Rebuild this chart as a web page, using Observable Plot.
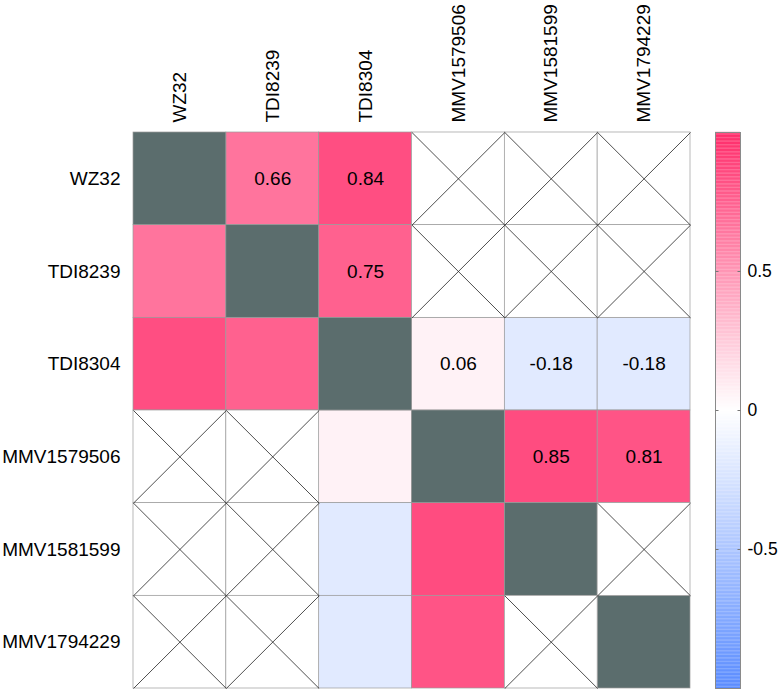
<!DOCTYPE html>
<html>
<head>
<meta charset="utf-8">
<script src="https://cdn.jsdelivr.net/npm/d3@7"></script>
<script src="https://cdn.jsdelivr.net/npm/@observablehq/plot@0.6"></script>
<style>
  html, body { margin: 0; padding: 0; background: #fff; }
  #wrap { position: relative; width: 780px; height: 689px; }
  #wrap > svg { position: absolute; left: 0; top: 0; }
</style>
</head>
<body>
<div id="wrap"></div>
<script>
// Labels (rows and columns are the same compounds)
const labels = ["WZ32", "TDI8239", "TDI8304", "MMV1579506", "MMV1581599", "MMV1794229"];

// Upper-triangle correlation values (null = not available, shown with an X)
const corrWZ32       = [null, 0.66, 0.84, null, null, null];
const corrTDI8239    = [null, null, 0.75, null, null, null];
const corrTDI8304    = [null, null, null, 0.06, -0.18, -0.18];
const corrMMV1579506 = [null, null, null, null, 0.85, 0.81];
const corrMMV1581599 = [null, null, null, null, null, null];
const corrMMV1794229 = [null, null, null, null, null, null];
const upper = [corrWZ32, corrTDI8239, corrTDI8304, corrMMV1579506, corrMMV1581599, corrMMV1794229];

// Colorbar ticks
const barTicks = [-0.5, 0, 0.5];

const colorScale = {type: "linear", domain: [-1, 0, 1], range: ["#5a8cff", "#ffffff", "#ff2c6a"], interpolate: "rgb"};
const font = "'Liberation Sans', Arial, Helvetica, sans-serif";
const fs = 19;

const cells = [];
for (let i = 0; i < labels.length; i++) {
  for (let j = 0; j < labels.length; j++) {
    let v;
    if (i === j) v = "diag";
    else v = upper[Math.min(i, j)][Math.max(i, j)];
    cells.push({i, j, v, upperTri: j > i});
  }
}
const valued = cells.filter(d => typeof d.v === "number");
const diag = cells.filter(d => d.v === "diag");
const missing = cells.filter(d => d.v === null);

const n = labels.length;
const main = Plot.plot({
  width: 780,
  height: 689,
  marginLeft: 133,
  marginRight: 90,
  marginTop: 132,
  marginBottom: 1,
  style: {fontFamily: font, fontSize: fs + "px", color: "#000", background: "transparent"},
  x: {domain: [0, n]},
  y: {domain: [n, 0]},
  color: colorScale,
  marks: [
    Plot.rect(valued, {x1: "j", x2: d => d.j + 1, y1: "i", y2: d => d.i + 1, fill: "v", stroke: "#9a9a9a", strokeWidth: 0.7}),
    Plot.rect(diag, {x1: "j", x2: d => d.j + 1, y1: "i", y2: d => d.i + 1, fill: "#5b6d6d", stroke: "#9a9a9a", strokeWidth: 0.7}),
    Plot.rect(missing, {x1: "j", x2: d => d.j + 1, y1: "i", y2: d => d.i + 1, fill: "#ffffff", stroke: "#9a9a9a", strokeWidth: 0.7}),
    Plot.link(missing, {x1: "j", y1: "i", x2: d => d.j + 1, y2: d => d.i + 1, stroke: "#222", strokeWidth: 0.8}),
    Plot.link(missing, {x1: d => d.j + 1, y1: "i", x2: "j", y2: d => d.i + 1, stroke: "#222", strokeWidth: 0.8}),
    Plot.text(valued.filter(d => d.upperTri), {x: d => d.j + 0.5, y: d => d.i + 0.5, text: d => d.v.toFixed(2), fill: "#000", fontSize: fs}),
    Plot.axisX({anchor: "top", ticks: d3.range(n).map(k => k + 0.5), tickFormat: k => labels[Math.floor(k)], tickSize: 0, tickPadding: 10, tickRotate: -90, fontSize: fs, label: null}),
    Plot.axisY({anchor: "left", ticks: d3.range(n).map(k => k + 0.5), tickFormat: k => labels[Math.floor(k)], tickSize: 0, tickPadding: 13, fontSize: fs, label: null})
  ]
});

// Colorbar
const steps = d3.range(-1, 1, 0.005);
const bar = Plot.plot({
  width: 780,
  height: 689,
  marginLeft: 715,
  marginRight: 40,
  marginTop: 132,
  marginBottom: 1,
  style: {fontFamily: font, fontSize: "17.5px", color: "#000", background: "transparent"},
  x: {domain: [0, 1], axis: null},
  y: {domain: [-1, 1], axis: null},
  color: colorScale,
  marks: [
    Plot.rect(steps, {x1: 0, x2: 1, y1: d => d, y2: d => d + 0.0055, fill: d => d + 0.0025}),
    Plot.frame({stroke: "#8a8a8a", strokeWidth: 1}),
    Plot.link(barTicks, {x1: 0, x2: 0.12, y1: d => d, y2: d => d, stroke: "#777", strokeWidth: 1}),
    Plot.link(barTicks, {x1: 0.88, x2: 1, y1: d => d, y2: d => d, stroke: "#777", strokeWidth: 1}),
    Plot.text(barTicks, {x: 1, y: d => d, text: d => String(d), dx: 7, textAnchor: "start", fill: "#000", fontSize: 17.5})
  ]
});

const wrap = document.getElementById("wrap");
wrap.appendChild(main);
wrap.appendChild(bar);
</script>
</body>
</html>
